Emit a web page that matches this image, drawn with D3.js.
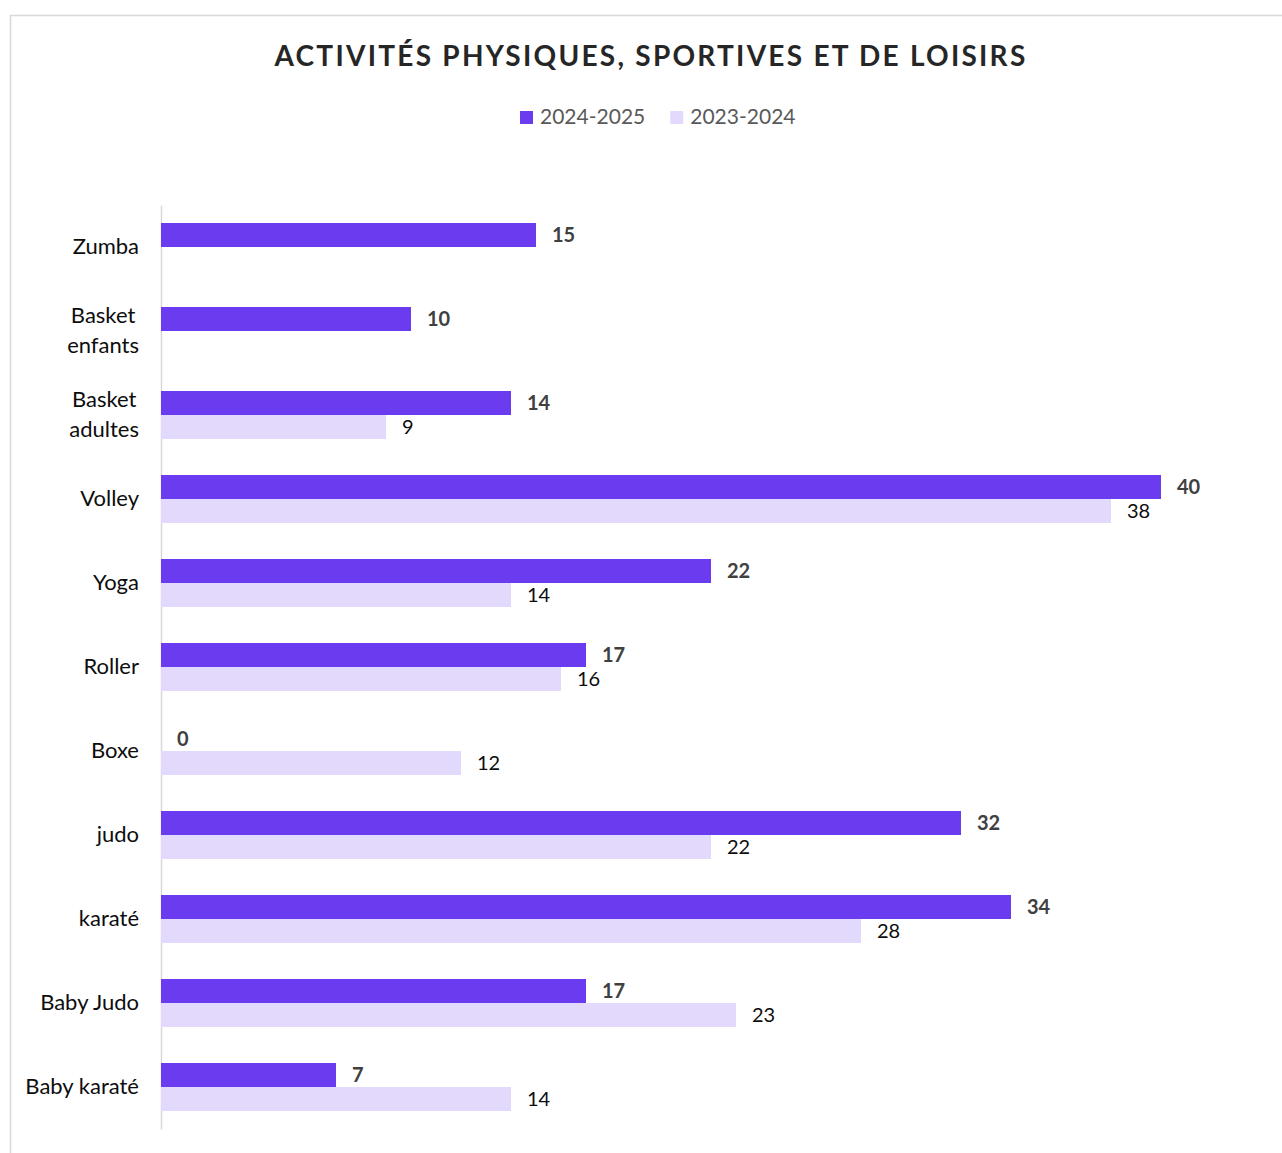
<!DOCTYPE html>
<html>
<head>
<meta charset="utf-8">
<script src="https://cdn.jsdelivr.net/npm/d3@7"></script>
<style>
  body { margin: 0; background: #fff; }
  text { font-family: Lato, "Open Sans", sans-serif; }
</style>
</head>
<body>
<div id="chart"></div>
<script>
const categories = ["Zumba", "Basket\nenfants", "Basket\nadultes", "Volley", "Yoga", "Roller", "Boxe", "judo", "karaté", "Baby Judo", "Baby karaté"];
const seriesNames = ["2024-2025", "2023-2024"];
const values2024 = [15, 10, 14, 40, 22, 17, 0, 32, 34, 17, 7];
const values2023 = [null, null, 9, 38, 14, 16, 12, 22, 28, 23, 14];
const colors = ["#6b3bef", "#e3d9fd"];

const width = 1282, height = 1153;
const svg = d3.select("#chart").append("svg")
  .attr("width", width).attr("height", height);

// outer frame
svg.append("rect")
  .attr("x", 10.5).attr("y", 15.5)
  .attr("width", 1300).attr("height", 1200)
  .attr("fill", "none").attr("stroke", "#d9d9d9").attr("stroke-width", 1.5);

// title
const title = svg.append("text")
  .attr("x", 651).attr("y", 66)
  .attr("text-anchor", "middle")
  .attr("fill", "#262626")
  .style("font-size", "28px").style("font-weight", "bold")
  .text("ACTIVITÉS PHYSIQUES, SPORTIVES ET DE LOISIRS");
const tw = title.node().getComputedTextLength();
const n = title.text().length;
title.style("letter-spacing", ((753 - tw) / n) + "px");

// legend
const legend = svg.append("g");
let lx = 520;
seriesNames.forEach((s, i) => {
  legend.append("rect").attr("x", lx).attr("y", 111).attr("width", 13).attr("height", 13).attr("fill", colors[i]);
  const t = legend.append("text").attr("x", lx + 20).attr("y", 124)
    .attr("fill", "#595959").style("font-size", "21px").text(s);
  lx += 20 + t.node().getComputedTextLength() + 25;
});

const data = categories.map((c, i) => ({ cat: c, v: [values2024[i], values2023[i]] }));

const xScale = d3.scaleLinear().domain([0, 40]).range([161, 1161]);
const yScale = d3.scaleBand().domain(categories).range([205, 1129])
  .paddingInner(36 / 84).paddingOuter(18 / 84);
const inner = d3.scaleBand().domain([0, 1]).range([0, yScale.bandwidth()]);

const yAxis = d3.axisLeft(yScale).tickSize(0).tickSizeOuter(0).tickPadding(22);
const yAxisG = svg.append("g").attr("transform", `translate(${161},0)`).call(yAxis);
yAxisG.select(".domain").attr("stroke", "#d9d9d9").attr("stroke-width", 1.5);
yAxisG.selectAll(".tick text")
  .style("font-size", "22px").style("font-family", "Lato, sans-serif")
  .attr("fill", "#0d0d0d")
  .each(function(d) {
    const el = d3.select(this);
    const lines = d.split("\n");
    if (lines.length === 1) return;
    el.text(null).attr("dy", null);
    const spans = lines.map((l, k) => el.append("tspan")
      .attr("y", (k - (lines.length - 1) / 2) * 30 - 2).attr("dominant-baseline", "central").text(l));
    const ws = spans.map(s => s.node().getComputedTextLength());
    const maxW = d3.max(ws);
    const right = -22;
    spans.forEach(s => s.attr("x", right - maxW / 2).attr("text-anchor", "middle"));
    el.attr("text-anchor", "middle");
  });
yAxisG.selectAll(".tick text").filter(d => d.indexOf("\n") < 0)
  .attr("dy", null).attr("y", -2).attr("dominant-baseline", "central");

const groups = svg.selectAll("g.cat").data(data).enter().append("g")
  .attr("class", "cat")
  .attr("transform", d => `translate(0,${yScale(d.cat)})`);

groups.selectAll("rect").data(d => d.v.map((v, i) => ({ v, i })).filter(e => e.v !== null))
  .enter().append("rect")
  .attr("x", xScale(0))
  .attr("y", e => inner(e.i))
  .attr("width", e => xScale(e.v) - xScale(0))
  .attr("height", inner.bandwidth())
  .attr("fill", e => colors[e.i]);

groups.selectAll("text.val").data(d => d.v.map((v, i) => ({ v, i })).filter(e => e.v !== null))
  .enter().append("text")
  .attr("class", "val")
  .attr("x", e => xScale(e.v) + 16)
  .attr("y", e => inner(e.i) + inner.bandwidth() / 2 - 1)
  .attr("dominant-baseline", "central")
  .attr("fill", e => e.i === 0 ? "#404040" : "#0d0d0d")
  .style("font-weight", e => e.i === 0 ? "bold" : "normal")
  .style("font-size", "20px")
  .text(e => e.v);
</script>
</body>
</html>
